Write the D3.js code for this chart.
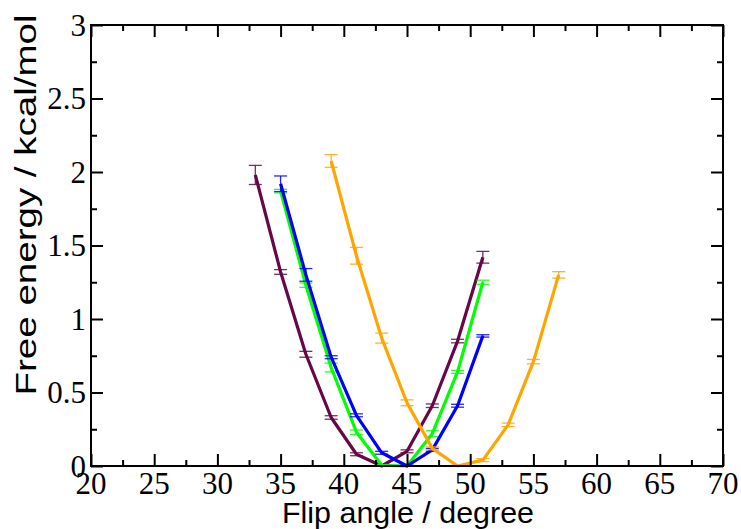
<!DOCTYPE html>
<html><head><meta charset="utf-8">
<script src="https://cdn.jsdelivr.net/npm/d3@7"></script>
<style>body{margin:0;background:#fff}svg{display:block}</style>
</head><body>
<script>
const xTicks = [20,25,30,35,40,45,50,55,60,65,70];
const yTicks = [0,0.5,1,1.5,2,2.5,3];
const yTickLabels = ["0","0.5","1","1.5","2","2.5","3"];

const maroonX = [33,35,37,39,41,43,45,47,49,51];
const maroonY = [1.98,1.32,0.76,0.33,0.08,0.0,0.10,0.41,0.85,1.42];
const maroonE = [0.065,0.016,0.02,0.012,0.01,0.008,0.01,0.012,0.012,0.04];

const greenX = [35,37,39,41,43,45,47,49,51];
const greenY = [1.87,1.23,0.67,0.23,0.005,0.0,0.22,0.64,1.25];
const greenE = [0.012,0.015,0.03,0.015,0.005,0.005,0.02,0.01,0.014];

const blueX = [35,37,39,41,43,45,47,49,51];
const blueY = [1.92,1.30,0.74,0.345,0.09,0.0,0.11,0.41,0.885];
const blueE = [0.053,0.043,0.01,0.01,0.01,0.005,0.01,0.01,0.008];

const orangeX = [39,41,43,45,47,49,51,53,55,57];
const orangeY = [2.075,1.43,0.87,0.43,0.12,0.0,0.04,0.28,0.71,1.30];
const orangeE = [0.043,0.057,0.034,0.02,0.01,0.005,0.01,0.012,0.015,0.022];

(function(){
const series = [
  {x: maroonX, y: maroonY, e: maroonE, color: "#670748"},
  {x: greenX, y: greenY, e: greenE, color: "#00ff00"},
  {x: blueX, y: blueY, e: blueE, color: "#0000ff"},
  {x: orangeX, y: orangeY, e: orangeE, color: "#ffa500"}
];

const W = 741, H = 529;
const L = 91, R = 723, T = 25, B = 466;
const svg = d3.select("body").append("svg").attr("width", W).attr("height", H);
const x = d3.scaleLinear().domain([20,70]).range([L,R]);
const y = d3.scaleLinear().domain([0,3]).range([B,T]);

const plot = svg.append("g");
const line = d3.line().x(d => x(d[0])).y(d => y(d[1]));

series.forEach(s => {
  const pts = s.x.map((v,i) => [v, s.y[i], s.e[i]]);
  const g = plot.append("g");
  g.append("path").datum(pts).attr("d", line).attr("fill","none")
    .attr("stroke", s.color).attr("stroke-width", 3.2).attr("stroke-linejoin","round");
  const eb = g.selectAll("g.eb").data(pts).enter().append("g")
    .attr("stroke", s.color).attr("stroke-width", 1.3).attr("stroke-opacity", 0.85);
  eb.append("line").attr("x1", d=>x(d[0])).attr("x2", d=>x(d[0]))
    .attr("y1", d=>y(d[1]+d[2])).attr("y2", d=>y(Math.max(0,d[1]-d[2])));
  eb.append("line").attr("x1", d=>x(d[0])-6.5).attr("x2", d=>x(d[0])+6.5)
    .attr("y1", d=>y(d[1]+d[2])).attr("y2", d=>y(d[1]+d[2]));
  eb.append("line").attr("x1", d=>x(d[0])-6.5).attr("x2", d=>x(d[0])+6.5)
    .attr("y1", d=>y(Math.max(0,d[1]-d[2]))).attr("y2", d=>y(Math.max(0,d[1]-d[2])));
});

const xMinor = d3.range(22.5, 70, 5);
const yMinor = d3.range(0.25, 3, 0.5);
function styleAx(g){ g.selectAll("path,line").attr("stroke","#000").attr("stroke-width",2); }
function noPath(g){ g.select("path.domain").remove(); }
const axB = d3.axisBottom(x), axT = d3.axisTop(x), axL = d3.axisLeft(y), axR = d3.axisRight(y);
[[axB,`translate(0,${B})`,xTicks,xMinor],[axT,`translate(0,${T})`,xTicks,xMinor],
 [axL,`translate(${L},0)`,yTicks,yMinor],[axR,`translate(${R},0)`,yTicks,yMinor]].forEach(([a,tr,maj,mnr])=>{
  svg.append("g").attr("transform",tr)
    .call(a.tickValues(maj).tickSizeInner(-12).tickSizeOuter(0).tickFormat(""))
    .call(noPath).call(styleAx);
  svg.append("g").attr("transform",tr)
    .call(a.tickValues(mnr).tickSizeInner(-6).tickSizeOuter(0).tickFormat(""))
    .call(noPath).call(styleAx);
});
svg.append("rect").attr("x",L).attr("y",T).attr("width",R-L).attr("height",B-T)
  .attr("fill","none").attr("stroke","#000").attr("stroke-width",2);

const tf = "'Liberation Serif', 'Times New Roman', serif";
svg.append("g").selectAll("text").data(xTicks).enter().append("text")
  .attr("x", d=>x(d)).attr("y", 494).attr("text-anchor","middle")
  .attr("font-family", tf).attr("font-size", 31).text(d=>d);
svg.append("g").selectAll("text").data(yTicks).enter().append("text")
  .attr("x", 86).attr("y", d=>y(d)).attr("dy","0.35em").attr("text-anchor","end")
  .attr("font-family", tf).attr("font-size", 31).text((d,i)=>yTickLabels[i]);

const sf = "'Liberation Sans', Arial, Helvetica, sans-serif";
svg.append("text").attr("x", 408).attr("y", 523).attr("text-anchor","middle")
  .attr("font-family", sf).attr("font-size", 29)
  .attr("textLength", 252).attr("lengthAdjust","spacingAndGlyphs")
  .text("Flip angle / degree");
svg.append("text").attr("transform","translate(36,205) rotate(-90)").attr("text-anchor","middle")
  .attr("font-family", sf).attr("font-size", 29)
  .attr("textLength", 381).attr("lengthAdjust","spacingAndGlyphs")
  .text("Free energy / kcal/mol");
})();
</script>
</body></html>
